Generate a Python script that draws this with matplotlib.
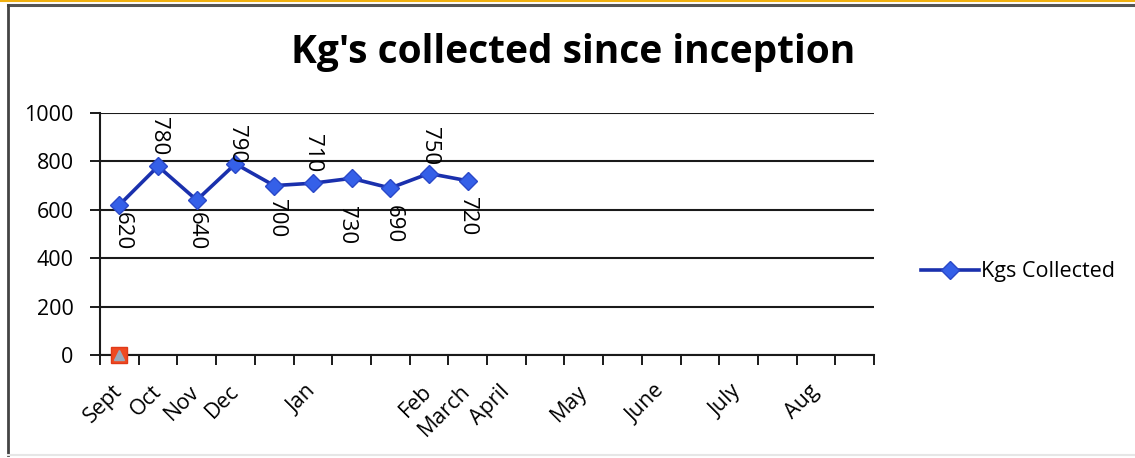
import numpy as np
import matplotlib
matplotlib.use("Agg")
import matplotlib.pyplot as plt
from matplotlib.lines import Line2D

# ---------------------------------------------------------
# DATA
# ---------------------------------------------------------
categories = ['Sept', 'Oct', 'Nov', 'Dec', '', 'Jan', '', '', 'Feb', 'March',
              'April', '', 'May', '', 'June', '', 'July', '', 'Aug', '']
kgs_collected = [620, 780, 640, 790, 700, 710, 730, 690, 750, 720]
other_series = [0]          # the lone marker sitting on the axis at Sept
y_ticks = [0, 200, 400, 600, 800, 1000]

# label placement (pixel offsets, + above / - below the point)
label_dy = [-7, 11, -12, 1, -13, 11, -28, -17, 8, -16]
label_dx = [3, 0, -1, 1, 2, 0, -5, 3, 1, 0]

TITLE = "Kg's collected since inception"
FONT = 'Open Sans'

W, H, DPI = 1135, 458, 100
plt.rcParams['font.family'] = [FONT, 'DejaVu Sans']

fig = plt.figure(figsize=(W / DPI, H / DPI), dpi=DPI)
fig.patch.set_facecolor('white')

# plot area in pixels: left 100, right 874, top 113, bottom 355
ax = fig.add_axes([100 / W, 1 - 355 / H, 774 / W, 242 / H])
ax.set_facecolor('white')

x = np.arange(len(kgs_collected))
line_col = '#1a30ad'
ax.plot(x, kgs_collected, color=line_col, lw=2.6, marker='D', ms=9.5,
        mfc='#3560e8', mec='#2a48c8', mew=1.0, zorder=4, label='Kgs Collected')

# the odd second-series marker at zero
ax.plot(np.arange(len(other_series)), other_series, marker='s', ms=11, ls='none',
        mfc='#f04a22', mec='#e03a18', clip_on=False, zorder=6)
ax.plot(np.arange(len(other_series)), other_series, marker='^', ms=7, ls='none',
        mfc='#9aaabb', mec='#9aaabb', clip_on=False, zorder=7)

# data labels rotated, reading top to bottom
for i, v in enumerate(kgs_collected):
    dy = label_dy[i]
    ax.annotate(str(v), xy=(i, v), xytext=(label_dx[i] * 0.72, dy * 0.72),
                textcoords='offset points', rotation=270,
                ha='center', va='bottom' if dy > 0 else 'top',
                fontsize=16, color='black', zorder=5)

# axes
ax.set_xlim(-0.5, len(categories) - 0.5)
ax.set_ylim(0, 1000)
ax.set_yticks(y_ticks)
ax.set_yticklabels([str(t) for t in y_ticks], fontsize=15.5)
ax.yaxis.grid(True, color='#1a1a1a', lw=1.5)
ax.set_axisbelow(True)

ax.set_xticks(np.arange(len(categories)))
ax.set_xticklabels(categories, fontsize=15.5, rotation=45, ha='right',
                   va='center', rotation_mode='anchor')
ax.set_xticks(np.arange(len(categories) + 1) - 0.5, minor=True)
ax.tick_params(axis='x', which='major', length=0, pad=24)
ax.tick_params(axis='x', which='minor', length=7, width=1.4, color='#1a1a1a')
ax.tick_params(axis='y', length=7, width=1.4, color='#1a1a1a', pad=12)

for s in ['top', 'right']:
    ax.spines[s].set_visible(False)
for s in ['left', 'bottom']:
    ax.spines[s].set_color('#1a1a1a')
    ax.spines[s].set_linewidth(1.5)

# title
fig.text(573 / W, 1 - 53 / H, TITLE, ha='center', va='center',
         fontsize=28, fontweight='bold', color='black')

# legend
handles, labels = ax.get_legend_handles_labels()
leg = fig.legend(handles, labels, loc='center left',
                 bbox_to_anchor=(912 / W, 1 - 272 / H), frameon=False,
                 fontsize=15.5, handlelength=2.7, handletextpad=0.1,
                 borderaxespad=0)

# frame around the chart
fig.add_artist(Line2D([0, 1], [1 - 0.8 / H, 1 - 0.8 / H], color='#f0b010', lw=1.5))
fig.add_artist(Line2D([8 / W, 1], [1 - 4.5 / H, 1 - 4.5 / H], color='#555555', lw=2.2))
fig.add_artist(Line2D([8 / W, 8 / W], [1 - 4.5 / H, 1 - 455 / H], color='#444444', lw=2.0))
fig.add_artist(Line2D([8 / W, 1], [1 - 455 / H, 1 - 455 / H], color='#e6e6e6', lw=1.5))

fig.savefig('out.png', dpi=DPI)
